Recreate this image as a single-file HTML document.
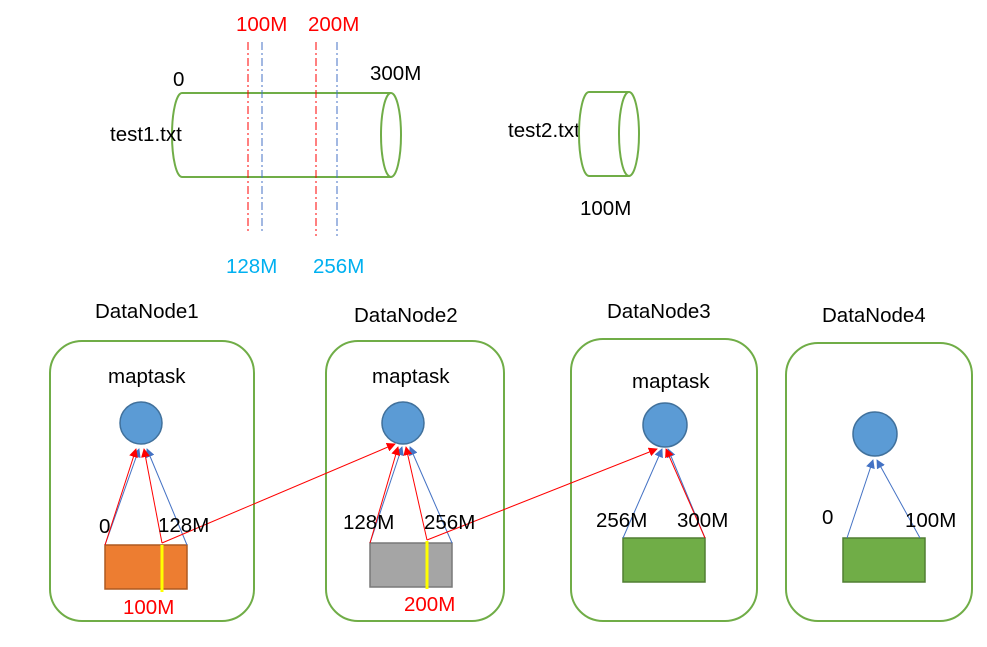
<!DOCTYPE html>
<html><head><meta charset="utf-8"><style>
html,body{margin:0;padding:0;background:#fff;}
svg{display:block;font-family:"Liberation Sans",sans-serif;}
</style></head><body>
<svg width="987" height="647" viewBox="0 0 987 647" xmlns="http://www.w3.org/2000/svg">
<defs>
<marker id="ar" viewBox="0 0 10 10" refX="9" refY="5" markerWidth="9" markerHeight="9" orient="auto"><path d="M0,0L10,5L0,10z" fill="#ff0000"/></marker>
<marker id="ab" viewBox="0 0 10 10" refX="9" refY="5" markerWidth="9" markerHeight="9" orient="auto"><path d="M0,0L10,5L0,10z" fill="#4472c4"/></marker>
</defs>
<path d="M182,93 L391,93 M182,177 L391,177 M182,93 A10,42 0 0 0 182,177" fill="none" stroke="#70ad47" stroke-width="2"/>
<ellipse cx="391" cy="135" rx="10" ry="42" fill="none" stroke="#70ad47" stroke-width="2"/>
<g stroke-width="1" stroke-dasharray="8,3,2,3">
<line x1="248" y1="42" x2="248" y2="234" stroke="#ff0000"/>
<line x1="262" y1="42" x2="262" y2="234" stroke="#4472c4"/>
<line x1="316" y1="42" x2="316" y2="236" stroke="#ff0000"/>
<line x1="337" y1="42" x2="337" y2="236" stroke="#4472c4"/>
</g>
<g font-size="20.5">
<text x="236" y="31" fill="#ff0000">100M</text>
<text x="308" y="31" fill="#ff0000">200M</text>
<text x="173" y="86" fill="#000">0</text>
<text x="370" y="80" fill="#000">300M</text>
<text x="110" y="141" fill="#000">test1.txt</text>
<text x="226" y="273" fill="#00b0f0">128M</text>
<text x="313" y="273" fill="#00b0f0">256M</text>
<text x="508" y="137" fill="#000">test2.txt</text>
<text x="580" y="215" fill="#000">100M</text>
</g>
<path d="M589,92 L629,92 M589,176 L629,176 M589,92 A10,42 0 0 0 589,176" fill="none" stroke="#70ad47" stroke-width="2"/>
<ellipse cx="629" cy="134" rx="10" ry="42" fill="none" stroke="#70ad47" stroke-width="2"/>
<g fill="none" stroke="#70ad47" stroke-width="2">
<rect x="50" y="341" width="204" height="280" rx="32"/>
<rect x="326" y="341" width="178" height="280" rx="32"/>
<rect x="571" y="339" width="186" height="282" rx="32"/>
<rect x="786" y="343" width="186" height="278" rx="32"/>
</g>
<g font-size="20.5" fill="#000">
<text x="95" y="318">DataNode1</text>
<text x="354" y="322">DataNode2</text>
<text x="607" y="318">DataNode3</text>
<text x="822" y="322">DataNode4</text>
<text x="108" y="383">maptask</text>
<text x="372" y="383">maptask</text>
<text x="632" y="388">maptask</text>
</g>
<g fill="#5b9bd5" stroke="#41719c" stroke-width="1.5">
<circle cx="141" cy="423" r="21"/>
<circle cx="403" cy="423" r="21"/>
<circle cx="665" cy="425" r="22"/>
<circle cx="875" cy="434" r="22"/>
</g>
<rect x="105" y="545" width="82" height="44" fill="#ed7d31" stroke="#ae5a21" stroke-width="1.5"/>
<rect x="370" y="543" width="82" height="44" fill="#a5a5a5" stroke="#787878" stroke-width="1.5"/>
<rect x="623" y="538" width="82" height="44" fill="#70ad47" stroke="#507e32" stroke-width="1.5"/>
<rect x="843" y="538" width="82" height="44" fill="#70ad47" stroke="#507e32" stroke-width="1.5"/>
<line x1="162" y1="545" x2="162" y2="592" stroke="#ffff00" stroke-width="3"/>
<line x1="427" y1="541" x2="427" y2="589" stroke="#ffff00" stroke-width="3"/>
<g stroke-width="1">
<line x1="105" y1="545" x2="139" y2="449" stroke="#4472c4" marker-end="url(#ab)"/>
<line x1="105" y1="545" x2="136" y2="449" stroke="#ff0000" marker-end="url(#ar)"/>
<line x1="187" y1="545" x2="147" y2="449" stroke="#4472c4" marker-end="url(#ab)"/>
<line x1="162" y1="543" x2="144" y2="449" stroke="#ff0000" marker-end="url(#ar)"/>
<line x1="162" y1="543" x2="395" y2="444" stroke="#ff0000" marker-end="url(#ar)"/>
<line x1="370" y1="543" x2="402" y2="447" stroke="#4472c4" marker-end="url(#ab)"/>
<line x1="370" y1="543" x2="398" y2="447" stroke="#ff0000" marker-end="url(#ar)"/>
<line x1="452" y1="543" x2="410" y2="447" stroke="#4472c4" marker-end="url(#ab)"/>
<line x1="427" y1="540" x2="406" y2="447" stroke="#ff0000" marker-end="url(#ar)"/>
<line x1="427" y1="540" x2="657" y2="449" stroke="#ff0000" marker-end="url(#ar)"/>
<line x1="623" y1="538" x2="662" y2="449" stroke="#4472c4" marker-end="url(#ab)"/>
<line x1="705" y1="538" x2="668" y2="449" stroke="#4472c4" marker-end="url(#ab)"/>
<line x1="705" y1="538" x2="666" y2="449" stroke="#ff0000" marker-end="url(#ar)"/>
<line x1="847" y1="538" x2="873" y2="460" stroke="#4472c4" marker-end="url(#ab)"/>
<line x1="920" y1="538" x2="877" y2="460" stroke="#4472c4" marker-end="url(#ab)"/>
</g>
<g font-size="20.5" fill="#000">
<text x="99" y="533">0</text>
<text x="158" y="532">128M</text>
<text x="343" y="529">128M</text>
<text x="424" y="529">256M</text>
<text x="596" y="527">256M</text>
<text x="677" y="527">300M</text>
<text x="822" y="524">0</text>
<text x="905" y="527">100M</text>
<text x="123" y="614" fill="#ff0000">100M</text>
<text x="404" y="611" fill="#ff0000">200M</text>
</g>
</svg>
</body></html>
